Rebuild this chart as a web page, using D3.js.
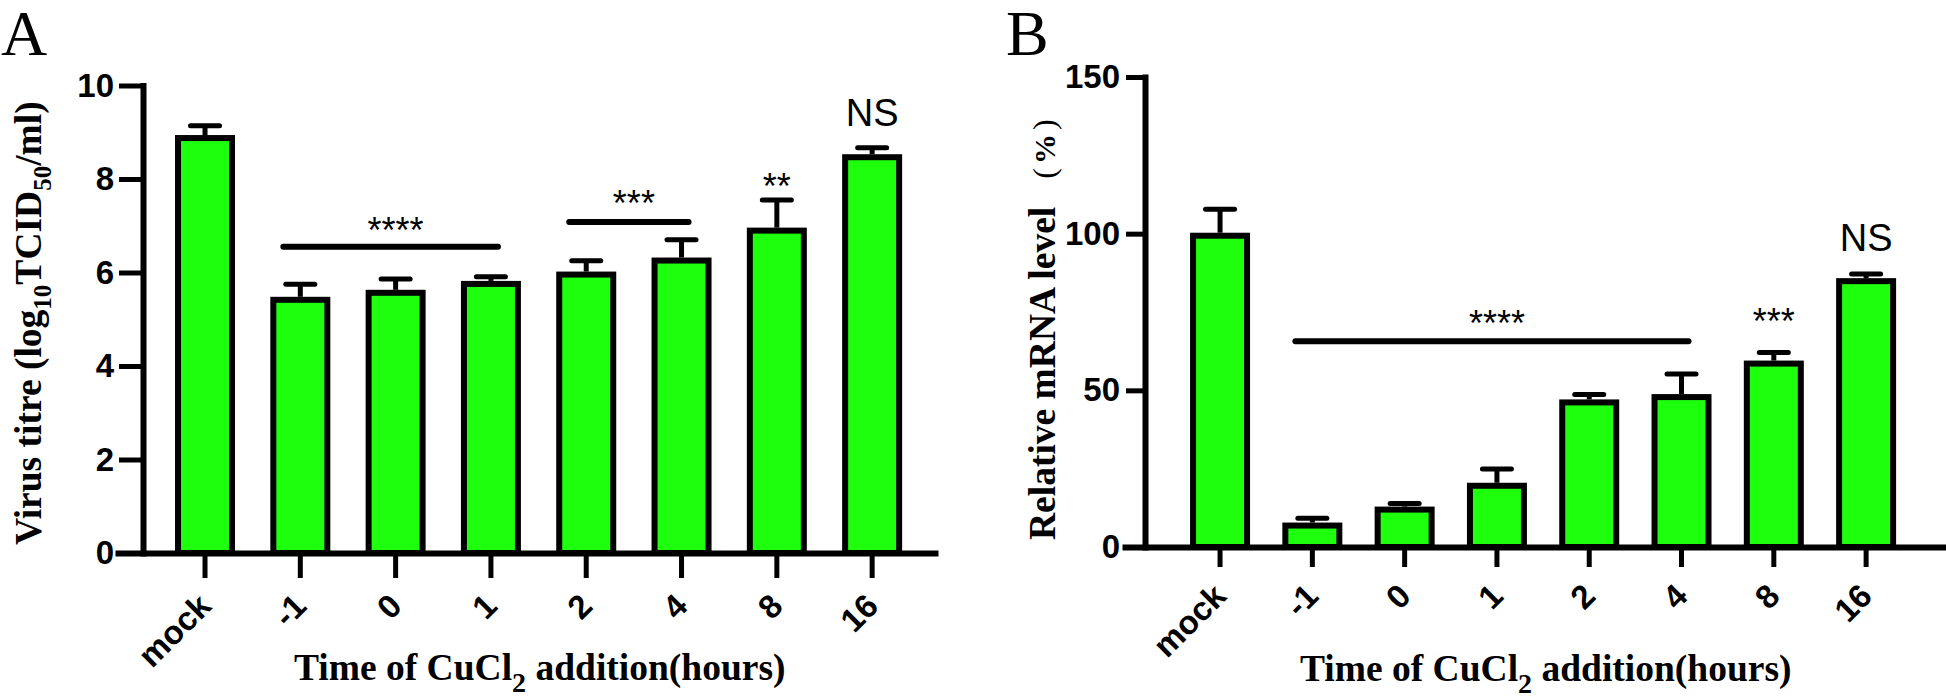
<!DOCTYPE html>
<html>
<head>
<meta charset="utf-8">
<script src="https://cdn.jsdelivr.net/npm/d3@7"></script>
<style>
  body { margin: 0; background: #fff; }
  svg { display: block; }
</style>
</head>
<body>
<svg id="chart" width="1946" height="699"></svg>
<script>
const categories = ["mock", "-1", "0", "1", "2", "4", "8", "16"];

// A: virus titre, log10 TCID50/ml (mean, upper SD)
const titreMean = [8.94, 5.48, 5.63, 5.82, 6.02, 6.32, 6.96, 8.53];
const titreSD = [0.20, 0.27, 0.23, 0.09, 0.23, 0.38, 0.59, 0.14];
const titreTicks = [0, 2, 4, 6, 8, 10];

// B: relative mRNA level, %
const mrnaMean = [100.3, 7.8, 12.9, 20.5, 47.1, 48.8, 59.5, 85.8];
const mrnaSD = [7.5, 1.4, 1.0, 4.4, 1.6, 6.4, 2.6, 1.3];
const mrnaTicks = [0, 50, 100, 150];

// significance marks: bracket line level and label level in data units
const titreSig = [
    { from: "-1", to: "1", line: 6.55, text: "****", at: 7.08 },
    { from: "2", to: "4", line: 7.08, text: "***", at: 7.64 },
    { from: "8", to: "8", line: null, text: "**", at: 8.02 },
    { from: "16", to: "16", line: null, text: "NS", at: 9.42 }
];
const mrnaSig = [
    { from: "-1", to: "4", line: 65.7, text: "****", at: 74.0 },
    { from: "8", to: "8", line: null, text: "***", at: 74.7 },
    { from: "16", to: "16", line: null, text: "NS", at: 98.8 }
];

const FILL = "#1eff0e";
const SANS = "'Liberation Sans', Arial, sans-serif";
const SERIF = "'Liberation Serif', 'Times New Roman', serif";

const svg = d3.select("#chart");

function drawPanel(p) {
    const g = svg.append("g");

    const x = d3.scaleBand()
        .domain(categories)
        .range([p.xStart, p.xEnd])
        .paddingInner(p.padInner)
        .paddingOuter(p.padOuter)
        .align(p.align);
    const y = d3.scaleLinear()
        .domain(p.domain)
        .range([p.zeroY, p.topY]);
    const bw = x.bandwidth();

    const rows = categories.map((c, i) => ({ cat: c, mean: p.mean[i], sd: p.sd[i] }));

    // bars, outer edge of the border sits on the value
    g.selectAll("rect.bar")
        .data(rows)
        .join("rect")
        .attr("class", "bar")
        .attr("x", d => x(d.cat))
        .attr("y", d => y(d.mean) + 3)
        .attr("width", bw)
        .attr("height", d => y(0) - y(d.mean) - 3)
        .attr("fill", FILL)
        .attr("stroke", "#000")
        .attr("stroke-width", 6);

    // upper error bars
    const eb = g.selectAll("g.err")
        .data(rows)
        .join("g")
        .attr("class", "err")
        .attr("transform", d => "translate(" + (x(d.cat) + bw / 2) + ",0)");
    eb.append("line")
        .attr("y1", d => y(d.mean))
        .attr("y2", d => y(d.mean + d.sd))
        .attr("stroke", "#000")
        .attr("stroke-width", 5);
    eb.append("line")
        .attr("x1", -14.5)
        .attr("x2", 14.5)
        .attr("y1", d => y(d.mean + d.sd))
        .attr("y2", d => y(d.mean + d.sd))
        .attr("stroke", "#000")
        .attr("stroke-width", 5)
        .attr("stroke-linecap", "round");

    // axes
    const yAxis = g.append("g")
        .attr("transform", "translate(" + p.axisX + ",0)")
        .call(d3.axisLeft(y).tickValues(p.ticks).tickSize(p.yTick).tickSizeOuter(0).tickPadding(p.yPad));
    const xAxis = g.append("g")
        .attr("transform", "translate(0," + p.zeroY + ")")
        .call(d3.axisBottom(x).tickSize(p.xTick).tickSizeOuter(0));

    [yAxis, xAxis].forEach(a => {
        a.attr("font-family", SANS).attr("font-size", 33).attr("font-weight", "bold");
        a.select(".domain").attr("stroke-width", 6).attr("stroke-linecap", "square");
        a.selectAll(".tick line").attr("stroke-width", 5);
        a.selectAll(".tick text").attr("fill", "#000");
    });

    xAxis.selectAll(".tick text")
        .attr("x", 0)
        .attr("y", 0)
        .attr("dy", null)
        .attr("text-anchor", "end")
        .attr("transform", "translate(8," + p.xLabelDrop + ") rotate(-45)");

    // significance brackets and labels
    const mid = s => (x(s.from) + x(s.to)) / 2 + bw / 2;
    g.selectAll("line.sig")
        .data(p.sig.filter(s => s.line != null))
        .join("line")
        .attr("class", "sig")
        .attr("x1", s => x(s.from) + bw / 2 - 17)
        .attr("x2", s => x(s.to) + bw / 2 + 7)
        .attr("y1", s => y(s.line))
        .attr("y2", s => y(s.line))
        .attr("stroke", "#000")
        .attr("stroke-width", 6)
        .attr("stroke-linecap", "round");

    g.selectAll("text.sig")
        .data(p.sig)
        .join("text")
        .attr("class", "sig")
        .attr("x", mid)
        .attr("y", s => s.text === "NS" ? y(s.at) + 0.358 * 38 : y(s.at) + 0.573 * 36)
        .attr("text-anchor", "middle")
        .attr("font-family", SANS)
        .attr("font-size", s => s.text === "NS" ? 38 : 36)
        .text(s => s.text);

    // panel letter
    svg.append("text")
        .attr("x", p.letterX)
        .attr("y", 55)
        .attr("font-family", SERIF)
        .attr("font-size", 64)
        .text(p.letter);

    // x title
    const xt = svg.append("text")
        .attr("x", p.xTitleX)
        .attr("y", p.xTitleY)
        .attr("font-family", SERIF)
        .attr("font-weight", "bold")
        .attr("font-size", 37.5);
    richText(xt, [["Time of CuCl", 0], ["2", 1], [" addition(hours)", 0]], 28, 12);

    // y title
    const yt = svg.append("text")
        .attr("transform", "translate(" + p.yTitleX + "," + p.yTitleY + ") rotate(-90)")
        .attr("font-family", SERIF)
        .attr("font-weight", "bold")
        .attr("font-size", 37.5);
    p.yTitle(yt);
}

function richText(sel, parts, subSize, shift) {
    let down = false;
    parts.forEach(([t, sub]) => {
        const ts = sel.append("tspan").text(t);
        if (sub) {
            ts.attr("font-size", subSize).attr("dy", shift);
            down = true;
        } else if (down) {
            ts.attr("dy", -shift);
            down = false;
        }
    });
}

drawPanel({
    letter: "A", letterX: 1,
    mean: titreMean, sd: titreSD, ticks: titreTicks, sig: titreSig,
    domain: [0, 10], zeroY: 553, topY: 85.5,
    xStart: 118, xEnd: 935, padInner: 0.4334, padOuter: 0.503, align: 0.626,
    axisX: 143, yTick: 24, yPad: 5, xTick: 25, xLabelDrop: 55,
    xTitleX: 294, xTitleY: 680,
    yTitleX: 41, yTitleY: 545,
    yTitle: t => richText(t, [["Virus titre (log", 0], ["10", 1], ["TCID", 0], ["50", 1], ["/ml)", 0]], 25, 10)
});

drawPanel({
    letter: "B", letterX: 1006,
    mean: mrnaMean, sd: mrnaSD, ticks: mrnaTicks, sig: mrnaSig,
    domain: [0, 150], zeroY: 547, topY: 77,
    xStart: 1125, xEnd: 1943, padInner: 0.415, padOuter: 0.639, align: 0.577,
    axisX: 1145, yTick: 19, yPad: 6, xTick: 20, xLabelDrop: 51,
    xTitleX: 1300, xTitleY: 681,
    yTitleX: 1055, yTitleY: 540,
    yTitle: t => {
        t.append("tspan").text("Relative mRNA level");
        t.append("tspan").attr("dx", 28).attr("font-weight", "normal").attr("font-size", 32).text("(");
        t.append("tspan").attr("dx", 4).attr("font-size", 30).text("%");
        t.append("tspan").attr("dx", 4).attr("font-weight", "normal").attr("font-size", 32).text(")");
    }
});
</script>
</body>
</html>
